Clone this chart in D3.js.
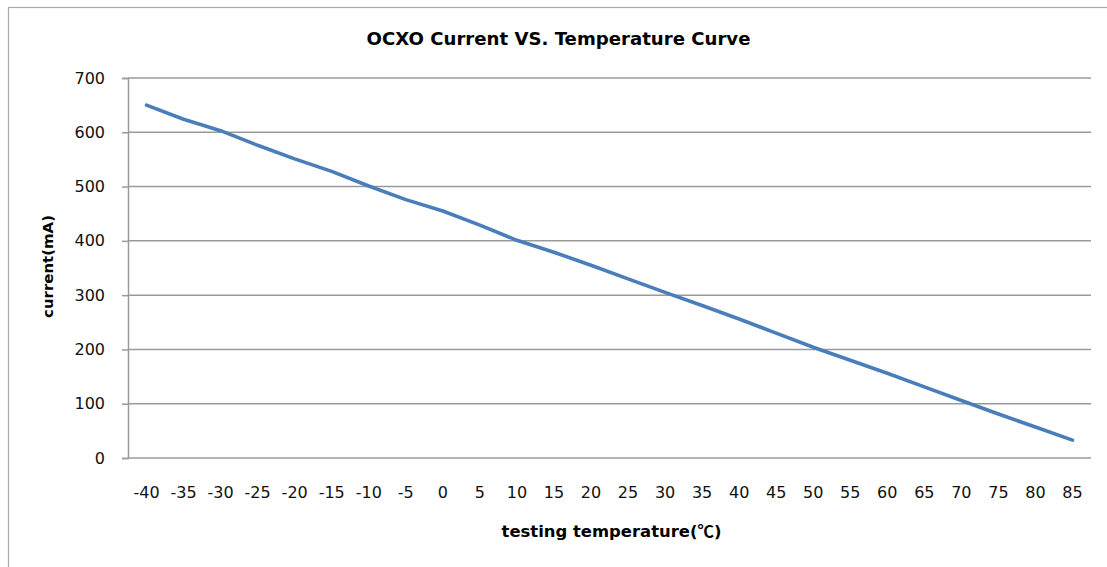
<!DOCTYPE html>
<html>
<head>
<meta charset="utf-8">
<script src="https://cdn.jsdelivr.net/npm/d3@7"></script>
<style>
  html, body { margin: 0; padding: 0; background: #fff; }
  svg { display: block; }
</style>
</head>
<body>
<svg id="chart" width="1107" height="567"></svg>
<script>
const categories = ["-40","-35","-30","-25","-20","-15","-10","-5","0","5","10","15","20","25","30","35","40","45","50","55","60","65","70","75","80","85"];
const currentValues = [650,624,603,576,551,528,501,476,455,429,401,379,355,330,305,281,256,230,204,180,156,131,106,81,57,33];
const yTicks = [0,100,200,300,400,500,600,700];
const titleText = "OCXO Current VS. Temperature Curve";
const xLabelMain = "testing temperature(";
const xLabelUnit = "\u2103";
const xLabelEnd = ")";
const yLabelText = "current(mA)";

const svg = d3.select("#chart");
const plot = { left: 128, right: 1091, top: 78, bottom: 458 };

// outer chart border
svg.append("rect")
  .attr("x", 8.5).attr("y", 7.5)
  .attr("width", 1120).attr("height", 600)
  .attr("fill", "#fff").attr("stroke", "#a9a9a9").attr("stroke-width", 1.2);

const x = d3.scaleBand().domain(categories).range([plot.left, plot.right]).padding(0);
const y = d3.scaleLinear().domain([0, 700]).range([plot.bottom, plot.top]);

// y axis
const yAxis = d3.axisLeft(y).tickValues(yTicks).tickSize(6).tickPadding(17).tickFormat(d3.format("d"));
const yg = svg.append("g").attr("transform", `translate(${plot.left},0)`).call(yAxis);
yg.select(".domain").attr("stroke", "#9a9a9a").attr("stroke-width", 1.5);
yg.selectAll(".tick line").attr("stroke", "#9a9a9a").attr("stroke-width", 1.5);
yg.selectAll(".tick text")
  .attr("font-family", "DejaVu Sans, Verdana, sans-serif")
  .attr("font-size", 16).attr("fill", "#111");

// gridlines
svg.append("g").selectAll("line.grid")
  .data(yTicks).join("line")
  .attr("x1", plot.left).attr("x2", plot.right)
  .attr("y1", d => y(d)).attr("y2", d => y(d))
  .attr("stroke", "#9a9a9a").attr("stroke-width", 1.5);

// x axis
const xAxis = d3.axisBottom(x).tickSize(0).tickPadding(29);
const xg = svg.append("g").attr("transform", `translate(0,${plot.bottom})`).call(xAxis);
xg.select(".domain").remove();
xg.selectAll(".tick text")
  .attr("font-family", "DejaVu Sans, Verdana, sans-serif")
  .attr("font-size", 16).attr("fill", "#111");

// line
const line = d3.line()
  .x((d, i) => x(categories[i]) + x.bandwidth() / 2)
  .y(d => y(d));
svg.append("path")
  .datum(currentValues)
  .attr("d", line)
  .attr("fill", "none")
  .attr("stroke", "#4a7ebb")
  .attr("stroke-width", 3.6)
  .attr("stroke-linecap", "round")
  .attr("stroke-linejoin", "round");

function fitText(sel, width) {
  const w = sel.node().getComputedTextLength();
  const fs = parseFloat(sel.attr("font-size"));
  sel.attr("font-size", fs * width / w);
}

const title = svg.append("text")
  .attr("x", 558.5).attr("y", 44.5)
  .attr("text-anchor", "middle")
  .attr("font-family", "DejaVu Sans, Verdana, sans-serif")
  .attr("font-weight", "bold").attr("font-size", 17)
  .attr("fill", "#000").text(titleText);
fitText(title, 384);

const xl = svg.append("text")
  .attr("x", 611.5).attr("y", 537)
  .attr("text-anchor", "middle")
  .attr("font-family", "DejaVu Sans, Verdana, sans-serif")
  .attr("font-weight", "bold").attr("font-size", 14)
  .attr("fill", "#000");
xl.append("tspan").text(xLabelMain);
xl.append("tspan").attr("font-family", "Noto Sans CJK SC, sans-serif").text(xLabelUnit);
xl.append("tspan").text(xLabelEnd);
fitText(xl, 220);

const yl = svg.append("text")
  .attr("transform", "translate(53,266.5) rotate(-90)")
  .attr("text-anchor", "middle")
  .attr("font-family", "DejaVu Sans, Verdana, sans-serif")
  .attr("font-weight", "bold").attr("font-size", 14)
  .attr("fill", "#000").text(yLabelText);
fitText(yl, 103);
</script>
</body>
</html>
